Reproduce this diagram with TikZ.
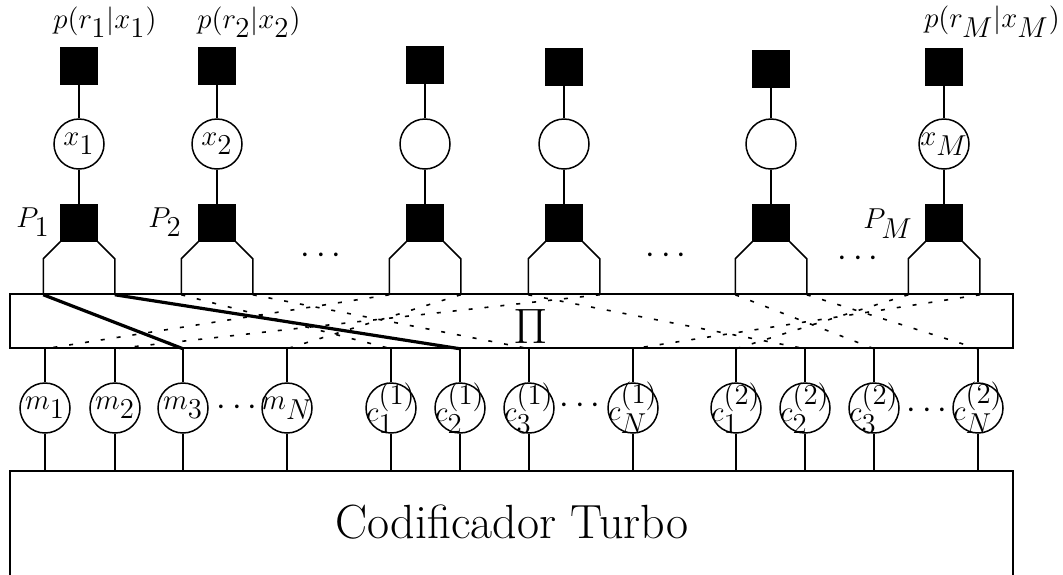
\documentclass[tikz,border=0pt]{standalone}
\usetikzlibrary{calc}
\begin{document}
\begin{tikzpicture}[x=0.5pt,y=-0.5pt,
  wire/.style={line width=0.75pt},
  fac/.style={draw,fill=black,minimum size=18pt,inner sep=0pt,line width=0.75pt},
  var/.style={draw,circle,fill=white,minimum size=25pt,inner sep=0pt,line width=0.75pt},
  vlab/.style={inner sep=0pt,font=\fontsize{14.5}{16}\selectfont},
  lab/.style={inner sep=0pt,font=\fontsize{14}{16}\selectfont},
  plab/.style={inner sep=0pt,font=\fontsize{13.5}{15}\selectfont},
  dotsnode/.style={inner sep=0pt,font=\fontsize{17}{20}\selectfont},
  perm/.style={line width=0.8pt,dash pattern=on 2pt off 6pt},
  link/.style={line width=1.6pt},
  box/.style={draw,line width=0.75pt,inner sep=0pt}]
\useasboundingbox (0,0) rectangle (1063,574);

% interleaver and encoder blocks
\node[box,minimum width=501.5pt,minimum height=27pt] (pi) at (511.5,321) {};
\node[inner sep=0pt,font=\fontsize{26}{28}\selectfont] (pilab) at (531,326) {$\Pi$};
\node[box,minimum width=501.5pt,minimum height=60pt,anchor=north] (enc) at (511.5,470) {};
\node[inner sep=0pt,font=\fontsize{24}{28}\selectfont] (enclab) at (512,522) {Codificador Turbo};

% symbol columns: observation factor, variable, constraint factor
\foreach \i/\x/\yt/\lbl in {1/79/66/{$x_{\textstyle 1}$},2/217/66/{$x_{\textstyle 2}$},3/425/65/{},4/564/67/{},5/771/69/{},6/944/67/{$x_{\textstyle M}$}} {
  \node[fac] (f\i) at (\x,\yt) {};
  \node[var,label={[vlab]center:\lbl}] (v\i) at (\x,144) {};
  \node[fac] (q\i) at (\x,223) {};
  \draw[wire] (f\i) -- (v\i);
  \draw[wire] (v\i) -- (q\i);
  \draw[wire] (q\i.south west) -- ++(-17,17) -- ++(0,36) coordinate (tl\i);
  \draw[wire] (q\i.south east) -- ++(17,17) -- ++(0,36) coordinate (tr\i);
}

% channel labels
\node[plab] (pr1) at (105,22) {$p(r_{\textstyle 1}|x_{\textstyle 1})$};
\node[plab] (pr2) at (249,22) {$p(r_{\textstyle 2}|x_{\textstyle 2})$};
\node[plab] (prM) at (992,22) {$p(r_{\textstyle M}|x_{\textstyle M})$};
\node[lab] (P1) at (33,222) {$P_{\textstyle 1}$};
\node[lab] (P2) at (165,222) {$P_{\textstyle 2}$};
\node[lab] (PM) at (888,224) {$P_{\textstyle M}$};

% code bits
\foreach \j/\x/\lbl in {1/45/{$m_{\textstyle 1}$},2/115/{$m_{\textstyle 2}$},3/183/{$m_{\textstyle 3}$},4/287/{$m_{\textstyle N}$},
  5/391/{$c^{\textstyle (1)}_{\textstyle 1}$},6/460/{$c^{\textstyle (1)}_{\textstyle 2}$},7/529/{$c^{\textstyle (1)}_{\textstyle 3}$},8/633/{$c^{\textstyle (1)}_{\textstyle N}$},
  9/736/{$c^{\textstyle (2)}_{\textstyle 1}$},10/805/{$c^{\textstyle (2)}_{\textstyle 2}$},11/874/{$c^{\textstyle (2)}_{\textstyle 3}$},12/978/{$c^{\textstyle (2)}_{\textstyle N}$}} {
  \node[var,label={[vlab]center:\lbl}] (b\j) at (\x,408) {};
  \draw[wire] (b\j.north) -- (b\j.north |- pi.south) coordinate (u\j);
  \draw[wire] (b\j.south) -- (b\j.south |- enc.north);
}

% ellipses
\node[dotsnode] (d1) at (321,256) {$\cdots$};
\node[dotsnode] (d2) at (666,256) {$\cdots$};
\node[dotsnode] (d3) at (858,259) {$\cdots$};
\node[dotsnode] (d4) at (237,408) {$\cdots$};
\node[dotsnode] (d5) at (580,406) {$\cdots$};
\node[dotsnode] (d6) at (927,411) {$\cdots$};

% interleaver permutation
\draw[link] (tl1) -- (u3);
\draw[link] (tr1) -- (u6);
\draw[perm] (tl2) -- (u5);
\draw[perm] (tr2) -- (u7);
\draw[perm] (tl3) -- (u1);
\draw[perm] (tr3) -- (u4);
\draw[perm] (tl4) -- (u10);
\draw[perm] (tr4) -- (u2);
\draw[perm] (tl5) -- (u11);
\draw[perm] (tr5) -- (u12);
\draw[perm] (tl6) -- (u9);
\draw[perm] (tr6) -- (u8);
\end{tikzpicture}
\end{document}
